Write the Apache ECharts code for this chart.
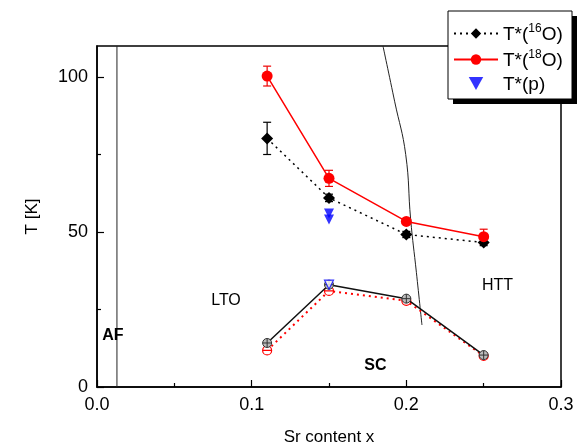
<!DOCTYPE html>
<html>
<head>
<meta charset="utf-8">
<script src="https://cdn.jsdelivr.net/npm/echarts@6/dist/echarts.min.js"></script>
<style>
  html, body { margin: 0; padding: 0; background: #fff; }
  #chart { width: 587px; height: 446px; }
</style>
</head>
<body>
<div id="chart"></div>
<script>
// Sr content of the measured samples
const srContent = [0.11, 0.15, 0.20, 0.25];
// Pseudogap temperature T* for 16O and 18O samples, with error bars
const tStar16 = [80.2, 61.0, 49.2, 46.6];
const tStar16Err = [5.2, 1.2, 1.0, 1.0];
const tStar18 = [100.3, 67.3, 53.4, 48.5];
const tStar18Err = [3.2, 2.6, 0.8, 2.4];
// T* under pressure
const tStarPX = [0.15, 0.15];
const tStarP = [56.0, 54.0];
// Superconducting Tc for 16O and 18O samples
const tc16 = [14.2, 33.0, 28.5, 10.3];
const tc18 = [11.8, 31.0, 27.8, 10.0];
const tcPX = [0.15];
const tcP = [33.0];
// Phase boundaries
const afBoundaryX = [0.0129, 0.0129];
const afBoundaryY = [0, 110];
const ltoBoundaryX = [0.1849, 0.1925, 0.1996, 0.2028, 0.2065, 0.2101];
const ltoBoundaryY = [110, 92, 75, 54, 37, 20];
// Axis ticks
const yMajorTicks = [0, 50, 100];
const yMinorTicks = [25, 75];
// Region labels
const regionText = ['LTO', 'AF', 'SC', 'HTT'];
const regionX = [0.0834, 0.0103, 0.180, 0.259];
const regionY = [28, 16.7, 6.8, 32.8];
const regionBold = [false, true, true, false];

const zip = (a, b) => a.map((v, i) => [v, b[i]]);
const FONT = '"Liberation Sans", Arial, sans-serif';

const circleCross = 'path://M0,5A5,5 0 1,1 10,5A5,5 0 1,1 0,5ZM0,5L10,5M5,0L5,10';
const circleBar = 'path://M0,5A5,5 0 1,1 10,5A5,5 0 1,1 0,5ZM0,5L10,5';
const downTriangle = 'path://M0,0L10,0L5,9Z';

function errorBars(name, values, errs, color) {
  return {
    type: 'custom',
    name: name,
    z: 1,
    data: srContent.map((x, i) => [x, values[i] - errs[i], values[i] + errs[i]]),
    renderItem: function (params, api) {
      const lo = api.coord([api.value(0), api.value(1)]);
      const hi = api.coord([api.value(0), api.value(2)]);
      const hw = 4;
      const style = { stroke: color, lineWidth: 1.2 };
      return {
        type: 'group',
        children: [
          { type: 'line', shape: { x1: lo[0], y1: lo[1], x2: hi[0], y2: hi[1] }, style: style },
          { type: 'line', shape: { x1: lo[0] - hw, y1: lo[1], x2: lo[0] + hw, y2: lo[1] }, style: style },
          { type: 'line', shape: { x1: hi[0] - hw, y1: hi[1], x2: hi[0] + hw, y2: hi[1] }, style: style }
        ]
      };
    }
  };
}

const chart = echarts.init(document.getElementById('chart'));

const option = {
  animation: false,
  backgroundColor: '#fff',
  textStyle: { fontFamily: FONT },
  grid: {
    left: 97, right: 26, top: 46, bottom: 59,
    outerBoundsMode: 'none',
    show: true, borderColor: '#000', borderWidth: 1.5, backgroundColor: 'transparent'
  },
  legend: {
    data: ['T16', 'T18', { name: 'TP', icon: downTriangle }],
    orient: 'vertical',
    left: 448, top: 11, z: 10,
    padding: [12, 0, 0, 5],
    itemWidth: 44, itemHeight: 13, itemGap: 5,
    formatter: function (name) {
      if (name === 'T16') return '{t|T*(}{s|16}{t|O)}';
      if (name === 'T18') return '{t|T*(}{s|18}{t|O)}';
      return '{t|T*(p)}';
    },
    textStyle: {
      color: '#000', fontFamily: FONT, fontSize: 19,
      rich: {
        t: { fontSize: 19, fontFamily: FONT, color: '#000', lineHeight: 21, verticalAlign: 'bottom' },
        s: { fontSize: 12, fontFamily: FONT, color: '#000', lineHeight: 12, verticalAlign: 'top' }
      }
    }
  },
  // Legend frame with its drop shadow
  graphic: [
    { type: 'rect', z: 6, shape: { x: 453, y: 16, width: 124, height: 88 }, style: { fill: '#000' } },
    { type: 'rect', z: 7, shape: { x: 448, y: 11, width: 124, height: 88 }, style: { fill: '#fff', stroke: '#000', lineWidth: 1 } }
  ],
  xAxis: {
    type: 'value',
    min: 0, max: 0.3, interval: 0.1,
    name: 'Sr content x',
    nameLocation: 'middle', nameGap: 42,
    nameTextStyle: { fontSize: 17, color: '#000', fontFamily: FONT },
    axisLine: { onZero: false, lineStyle: { color: '#000', width: 1.5 } },
    axisTick: { inside: true, length: 7, lineStyle: { color: '#000', width: 1.2 } },
    minorTick: { show: true, splitNumber: 2, length: 4, lineStyle: { color: '#000', width: 1.2 } },
    axisLabel: {
      fontSize: 18, color: '#000', margin: 9, fontFamily: FONT,
      formatter: v => v.toFixed(1)
    },
    splitLine: { show: false }
  },
  yAxis: [
    {
      type: 'value',
      min: 0, max: 110,
      name: 'T [K]',
      nameLocation: 'middle', nameGap: 56,
      nameTextStyle: { fontSize: 17, color: '#000', fontFamily: FONT },
      axisLine: { onZero: false, lineStyle: { color: '#000', width: 1.5 } },
      axisTick: { inside: true, length: 7, customValues: yMajorTicks, lineStyle: { color: '#000', width: 1.2 } },
      axisLabel: { fontSize: 18, color: '#000', margin: 9, fontFamily: FONT, customValues: yMajorTicks },
      splitLine: { show: false }
    },
    {
      type: 'value',
      min: 0, max: 110,
      position: 'left',
      axisLine: { show: false },
      axisTick: { inside: true, length: 4, customValues: yMinorTicks, lineStyle: { color: '#000', width: 1.2 } },
      axisLabel: { show: false },
      splitLine: { show: false }
    }
  ],
  series: [
    {
      name: 'afBoundary', type: 'line', data: zip(afBoundaryX, afBoundaryY),
      symbol: 'none', lineStyle: { color: '#222', width: 1 }, z: 1, silent: true
    },
    {
      name: 'ltoBoundary', type: 'line', data: zip(ltoBoundaryX, ltoBoundaryY),
      symbol: 'none', smooth: 0.45, lineStyle: { color: '#222', width: 1 }, z: 1, silent: true
    },
    errorBars('err16', tStar16, tStar16Err, '#000'),
    errorBars('err18', tStar18, tStar18Err, '#e00'),
    {
      name: 'T16', type: 'line', data: zip(srContent, tStar16),
      symbol: 'diamond', symbolSize: 12,
      itemStyle: { color: '#000' },
      lineStyle: { color: '#000', width: 1.5, type: [2, 4] }, z: 3
    },
    {
      name: 'T18', type: 'line', data: zip(srContent, tStar18),
      symbol: 'circle', symbolSize: 11,
      itemStyle: { color: '#f00' },
      lineStyle: { color: '#f00', width: 1.5 }, z: 3
    },
    {
      name: 'TP', type: 'scatter', data: zip(tStarPX, tStarP),
      symbol: downTriangle, symbolSize: 10,
      itemStyle: { color: '#00f' }, z: 4
    },
    {
      name: 'tc18', type: 'line', data: zip(srContent, tc18),
      symbol: circleBar, symbolSize: 9,
      itemStyle: { color: '#fff', borderColor: '#f00', borderWidth: 1.2 },
      lineStyle: { color: '#f00', width: 2, type: [2, 4] }, z: 3
    },
    {
      name: 'tc16', type: 'line', data: zip(srContent, tc16),
      symbol: circleCross, symbolSize: 9,
      itemStyle: { color: '#bbb', borderColor: '#333', borderWidth: 1 },
      lineStyle: { color: '#111', width: 1.5 }, z: 4
    },
    {
      name: 'tcP', type: 'scatter', data: zip(tcPX, tcP),
      symbol: downTriangle, symbolSize: 9,
      itemStyle: { color: '#fff', borderColor: '#00f', borderWidth: 1.2 }, z: 5
    }
  ]
};

chart.setOption(option);

// Region names placed in data coordinates
const regionLabels = regionText.map((t, i) => {
  const p = chart.convertToPixel({ gridIndex: 0 }, [regionX[i], regionY[i]]);
  return {
    type: 'text', x: p[0], y: p[1], z: 10,
    style: {
      text: t, fill: '#000', fontFamily: FONT,
      fontSize: 16, fontWeight: regionBold[i] ? 'bold' : 'normal',
      align: 'center', verticalAlign: 'middle'
    }
  };
});
chart.setOption({ graphic: option.graphic.concat(regionLabels) });
</script>
</body>
</html>
